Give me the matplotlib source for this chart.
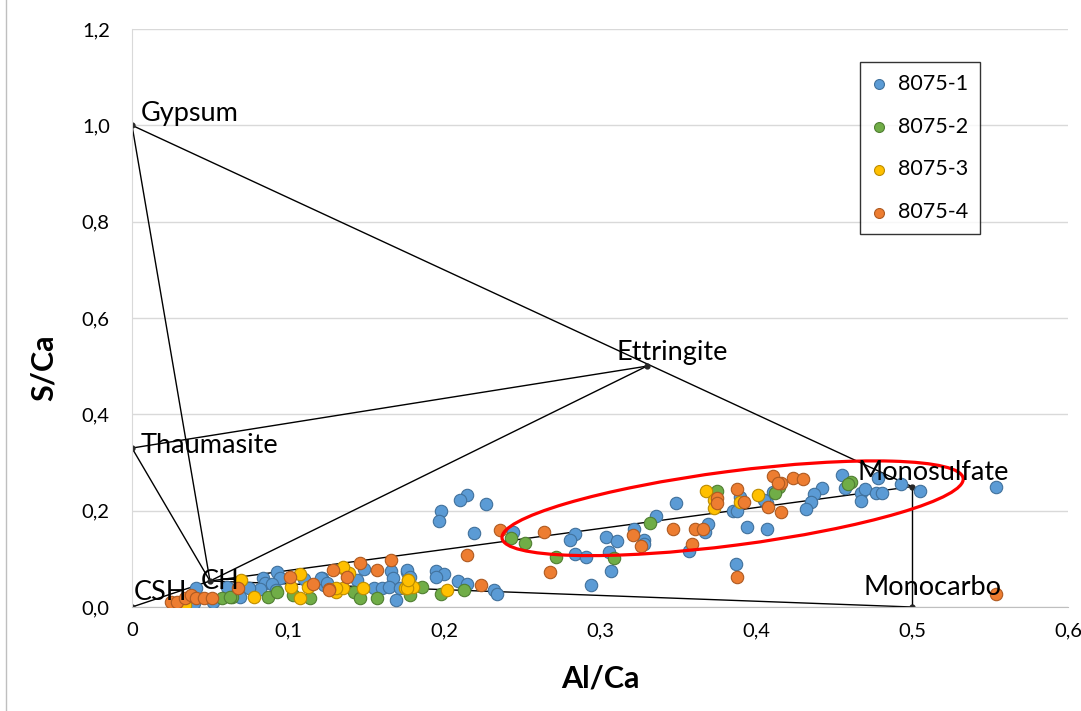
import matplotlib
matplotlib.use("Agg")
import matplotlib.pyplot as plt
from matplotlib.patches import Ellipse
from matplotlib.lines import Line2D
from matplotlib.transforms import ScaledTranslation

plt.rcParams["font.family"] = ["Lato", "DejaVu Sans"]

# phase diagram vertices (Al/Ca, S/Ca)
phase_names = ["Gypsum", "Thaumasite", "Ettringite", "Monosulfate", "Monocarbo", "CSH", "CH"]
phase_al = [0.0, 0.0, 0.33, 0.5, 0.5, 0.0, 0.05]
phase_s = [1.0, 0.33, 0.5, 0.25, 0.0, 0.0, 0.054]
tie_lines = [("Gypsum", "Monosulfate"), ("Gypsum", "CH"), ("Thaumasite", "CH"),
             ("Thaumasite", "Ettringite"), ("Ettringite", "CH"), ("CH", "Monosulfate"),
             ("CH", "Monocarbo"), ("Monosulfate", "Monocarbo"), ("CSH", "CH")]

s1_al = [0.554, 0.455, 0.478, 0.493, 0.505, 0.457, 0.467, 0.470, 0.467, 0.477, 0.481, 0.442,
         0.437, 0.435, 0.432, 0.411, 0.407, 0.407, 0.405, 0.394, 0.390, 0.385, 0.388, 0.387,
         0.349, 0.336, 0.367, 0.369, 0.357, 0.322, 0.328, 0.328, 0.304, 0.311, 0.306, 0.307,
         0.294, 0.215, 0.210, 0.227, 0.198, 0.197, 0.219, 0.244, 0.284, 0.281, 0.284, 0.291,
         0.176, 0.195, 0.200, 0.195, 0.209, 0.215, 0.232, 0.234, 0.149, 0.166, 0.167, 0.176,
         0.178, 0.144, 0.122, 0.123, 0.155, 0.160, 0.165, 0.169, 0.172, 0.093, 0.095, 0.110,
         0.121, 0.084, 0.085, 0.090, 0.082, 0.092, 0.075, 0.069, 0.125, 0.041, 0.040, 0.052,
         0.061]
s1_s = [0.250, 0.275, 0.268, 0.255, 0.241, 0.248, 0.236, 0.245, 0.221, 0.236, 0.237, 0.248,
        0.234, 0.218, 0.203, 0.239, 0.216, 0.162, 0.222, 0.167, 0.228, 0.200, 0.200, 0.089,
        0.216, 0.189, 0.156, 0.172, 0.117, 0.161, 0.140, 0.131, 0.145, 0.138, 0.115, 0.075,
        0.046, 0.232, 0.222, 0.214, 0.200, 0.179, 0.153, 0.156, 0.151, 0.139, 0.110, 0.104,
        0.073, 0.075, 0.068, 0.062, 0.053, 0.048, 0.035, 0.028, 0.079, 0.075, 0.060, 0.077,
        0.063, 0.056, 0.060, 0.046, 0.039, 0.039, 0.042, 0.015, 0.039, 0.072, 0.061, 0.058,
        0.060, 0.060, 0.049, 0.047, 0.037, 0.035, 0.040, 0.021, 0.049, 0.040, 0.008, 0.011,
        0.042]

s2_al = [0.461, 0.459, 0.415, 0.412, 0.375, 0.332, 0.309, 0.243, 0.252, 0.272, 0.213, 0.198,
         0.186, 0.178, 0.142, 0.146, 0.157, 0.064, 0.103, 0.114, 0.087, 0.093, 0.058, 0.063]
s2_s = [0.259, 0.255, 0.249, 0.237, 0.241, 0.175, 0.101, 0.143, 0.132, 0.103, 0.035, 0.028,
        0.042, 0.025, 0.032, 0.018, 0.018, 0.021, 0.025, 0.018, 0.020, 0.032, 0.019, 0.021]

s3_al = [0.401, 0.390, 0.368, 0.373, 0.373, 0.202, 0.177, 0.175, 0.180, 0.135, 0.139, 0.131,
         0.135, 0.148, 0.176, 0.177, 0.108, 0.070, 0.078, 0.102, 0.113, 0.108, 0.131, 0.034,
         0.135]
s3_s = [0.232, 0.218, 0.241, 0.222, 0.206, 0.035, 0.057, 0.039, 0.041, 0.080, 0.070, 0.032,
        0.039, 0.040, 0.040, 0.056, 0.068, 0.056, 0.021, 0.042, 0.042, 0.018, 0.039, 0.004,
        0.083]

s4_al = [0.554, 0.424, 0.430, 0.416, 0.416, 0.411, 0.414, 0.408, 0.388, 0.392, 0.375, 0.375,
         0.347, 0.361, 0.366, 0.359, 0.321, 0.326, 0.388, 0.236, 0.264, 0.268, 0.215, 0.224,
         0.146, 0.166, 0.129, 0.157, 0.138, 0.126, 0.101, 0.068, 0.116, 0.126, 0.025, 0.029,
         0.034, 0.038, 0.041, 0.046, 0.051]
s4_s = [0.027, 0.268, 0.266, 0.257, 0.197, 0.272, 0.258, 0.208, 0.244, 0.218, 0.227, 0.215,
        0.162, 0.162, 0.162, 0.131, 0.149, 0.127, 0.062, 0.160, 0.156, 0.073, 0.108, 0.046,
        0.091, 0.098, 0.077, 0.077, 0.063, 0.037, 0.063, 0.039, 0.047, 0.035, 0.010, 0.011,
        0.019, 0.025, 0.018, 0.019, 0.019]

series = [("8075-1", s1_al, s1_s, "#5B9BD5", "#41719C"),
          ("8075-2", s2_al, s2_s, "#70AD47", "#507E32"),
          ("8075-3", s3_al, s3_s, "#FFC000", "#BC8C00"),
          ("8075-4", s4_al, s4_s, "#ED7D31", "#AE5A21")]

x_ticks = [0, 0.1, 0.2, 0.3, 0.4, 0.5, 0.6]
x_labels = ["0", "0,1", "0,2", "0,3", "0,4", "0,5", "0,6"]
y_ticks = [0, 0.2, 0.4, 0.6, 0.8, 1.0, 1.2]
y_labels = ["0,0", "0,2", "0,4", "0,6", "0,8", "1,0", "1,2"]

fig = plt.figure(figsize=(10.81, 7.11), dpi=100)
ax = fig.add_axes([132 / 1081, 1 - 607 / 711, 936 / 1081, 578 / 711])

ax.set_xlim(0, 0.6)
ax.set_ylim(0, 1.2)
ax.set_yticks(y_ticks)
ax.set_yticklabels(y_labels)
ax.set_xticks(x_ticks)
ax.set_xticklabels(x_labels)
ax.tick_params(length=0, labelsize=14.5, labelcolor="#000000")
ax.tick_params(axis="y", pad=16)
ax.tick_params(axis="x", pad=11)
ax.yaxis.grid(True, color="#D9D9D9", lw=1)
ax.set_axisbelow(True)
for side in ["top", "right"]:
    ax.spines[side].set_visible(False)
ax.spines["left"].set_color("#D9D9D9")
ax.spines["bottom"].set_color("#BFBFBF")

ax.set_xlabel("Al/Ca", fontsize=22, fontweight="bold")
ax.set_ylabel("S/Ca", fontsize=22, fontweight="bold")
ax.xaxis.set_label_coords(0.5, -0.100)
ax.yaxis.set_label_coords(-0.079, 0.4135)

pos = {n: (a, s) for n, a, s in zip(phase_names, phase_al, phase_s)}
for a, b in tie_lines:
    ax.plot([pos[a][0], pos[b][0]], [pos[a][1], pos[b][1]], color="black", lw=1, zorder=2)
ax.plot(phase_al, phase_s, "o", ms=3.5, color="#262626", zorder=2)

label_offsets = {"Gypsum": (6.5, 3), "Thaumasite": (6, -3.6), "Ettringite": (-21.6, 4.3),
                 "Monosulfate": (-39.6, 4.5), "Monocarbo": (-35, 8.6), "CSH": (1.5, 5),
                 "CH": (-6.5, -5.8)}
for n in phase_names:
    ax.annotate(n, pos[n], xytext=label_offsets[n], textcoords="offset points",
                fontsize=19.5, ha="left", va="baseline", zorder=5)

for name, xs, ys, fc, ec in series:
    ax.scatter(xs, ys, s=80, c=fc, edgecolors=ec, linewidths=0.8, label=name, zorder=3)

ell = Ellipse((0, 0), 4.65, 0.74, angle=7.4, fill=False, ec="#FF0000", lw=2.3,
              transform=fig.dpi_scale_trans + ScaledTranslation(0.385, 0.205, ax.transData),
              zorder=4)
ax.add_patch(ell)

leg = ax.legend(loc="upper left", bbox_to_anchor=(0.778, 0.943), borderaxespad=0,
                fontsize=15.5, frameon=True, fancybox=False, edgecolor="black",
                labelspacing=1.06, handletextpad=0.55, handlelength=0.67, borderpad=0.55,
                markerscale=0.8)
leg.get_frame().set_linewidth(1)

fig.add_artist(Line2D([6 / 1081, 6 / 1081], [0, 1], color="#BFBFBF", lw=1))

fig.savefig("out.png", dpi=100)
